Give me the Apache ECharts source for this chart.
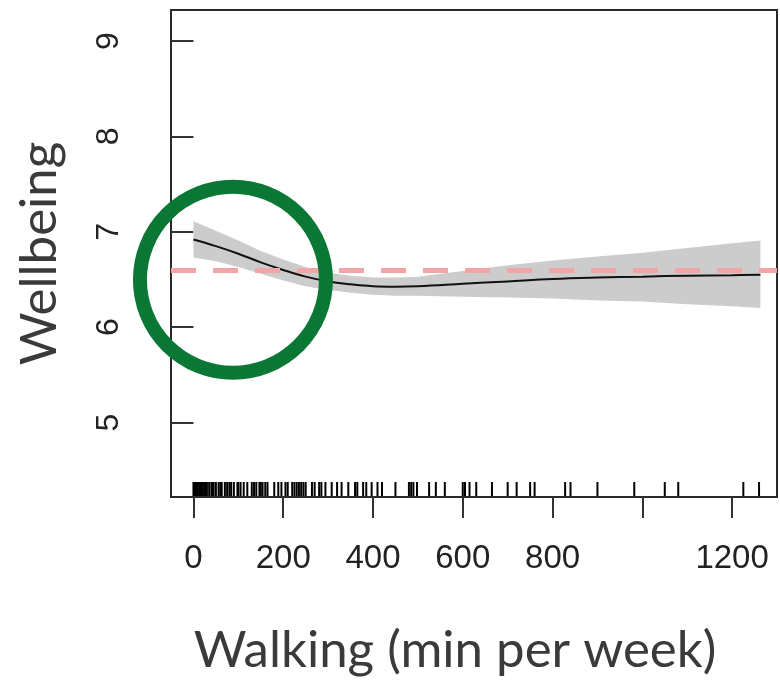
<!DOCTYPE html>
<html><head><meta charset="utf-8">
<script src="https://cdn.jsdelivr.net/npm/echarts@6/dist/echarts.min.js"></script>
<style>html,body{margin:0;padding:0;background:#fff}#c{width:780px;height:681px}</style>
</head><body><div id="c"></div>
<script>
// ---- data ----
const xTickValues = [0, 200, 400, 600, 800, 1000, 1200];
const xLabelValues = [0, 200, 400, 600, 800, 1200];
const yTickValues = [5, 6, 7, 8, 9];

const fitX   = [0, 50, 100, 150, 200, 250, 300, 350, 400, 450, 500, 600, 700, 800, 900, 1000, 1100, 1200, 1263];
const fitY   = [6.92, 6.85, 6.77, 6.68, 6.60, 6.53, 6.48, 6.45, 6.43, 6.425, 6.43, 6.455, 6.48, 6.505, 6.52, 6.53, 6.54, 6.545, 6.55];
const lowerY = [6.73, 6.69, 6.63, 6.56, 6.49, 6.43, 6.39, 6.36, 6.34, 6.33, 6.33, 6.32, 6.31, 6.30, 6.28, 6.27, 6.24, 6.22, 6.20];
const upperY = [7.11, 7.01, 6.91, 6.80, 6.71, 6.63, 6.57, 6.54, 6.52, 6.52, 6.53, 6.59, 6.65, 6.70, 6.74, 6.78, 6.83, 6.88, 6.91];

const rugX = [0, 3, 5, 7, 10, 14, 15, 18, 20, 21, 25, 28, 30, 35, 40, 42, 45, 50, 56, 60, 63, 70, 75, 80, 84, 90, 98, 100, 105, 112, 120,
  130, 135, 140, 147, 150, 154, 160, 165, 180, 189, 196, 205, 210, 220, 225, 230, 235, 240, 245, 250, 264, 270, 280, 285, 294,
  308, 320, 330, 345, 360, 365, 378, 385, 397, 410, 420, 450, 480, 485, 490, 498, 525, 540, 560, 600, 605, 615, 630, 665, 700,
  720, 750, 760, 828, 840, 900, 982, 1050, 1080, 1225, 1260];

const referenceLevel = 6.6;
const highlightPoint = [88, 6.497];

const X_MIN = -50, X_MAX = 1300, Y_MIN = 4.22, Y_MAX = 9.325;

// ---- chart ----
const chart = echarts.init(document.getElementById('c'), null, {renderer: 'canvas'});
const tickFont = 'Liberation Sans, Arial, Helvetica, sans-serif';
const titleFont = 'Lato, Calibri, sans-serif';

chart.setOption({
  backgroundColor: '#ffffff',
  animation: false,
  grid: {left: 171, top: 10, width: 606, height: 487, show: true, borderColor: '#2a2a2a', borderWidth: 2, backgroundColor: 'transparent'},
  xAxis: {
    type: 'value', min: X_MIN, max: X_MAX,
    axisLine: {show: false}, splitLine: {show: false},
    axisTick: {show: true, customValues: xTickValues, length: 21, lineStyle: {color: '#333', width: 2}},
    axisLabel: {customValues: xLabelValues, fontSize: 33, fontFamily: tickFont, color: '#222', margin: 45,
      formatter: v => String(v)},
    name: 'Walking (min per week)', nameLocation: 'middle', nameGap: 128,
    nameTextStyle: {fontSize: 51, fontFamily: titleFont, color: '#3a3a3a', padding: [0, 38, 0, 0]}
  },
  yAxis: {
    type: 'value', min: Y_MIN, max: Y_MAX,
    axisLine: {show: false}, splitLine: {show: false},
    axisTick: {show: true, customValues: yTickValues, length: 22, lineStyle: {color: '#333', width: 2}},
    axisLabel: {customValues: yTickValues, rotate: 90, fontSize: 32, fontFamily: tickFont, color: '#222', margin: 46,
      formatter: v => String(v)},
    name: 'Wellbeing', nameLocation: 'middle', nameRotate: 90, nameGap: 106,
    nameTextStyle: {fontSize: 51, fontFamily: titleFont, color: '#3a3a3a'}
  },
  series: [
    {
      type: 'custom', name: 'band', z: 1, silent: true,
      data: [[fitX[0], fitY[0]]],
      renderItem: function (params, api) {
        const pts = [];
        for (let i = 0; i < fitX.length; i++) pts.push(api.coord([fitX[i], upperY[i]]));
        for (let i = fitX.length - 1; i >= 0; i--) pts.push(api.coord([fitX[i], lowerY[i]]));
        return {type: 'polygon', shape: {points: pts}, style: {fill: '#cccccc'}};
      }
    },
    {
      type: 'line', name: 'ref', z: 2, data: [], silent: true,
      markLine: {
        silent: true, symbol: ['none', 'none'], label: {show: false},
        lineStyle: {color: '#f3a5a5', width: 5, type: [25, 17]},
        data: [{yAxis: referenceLevel}]
      }
    },
    {
      type: 'line', name: 'fit', z: 3, silent: true,
      data: fitX.map((x, i) => [x, fitY[i]]),
      smooth: 0.4, showSymbol: false,
      lineStyle: {color: '#111', width: 2}
    },
    {
      type: 'custom', name: 'rug', z: 3, silent: true,
      data: rugX.map(v => [v, Y_MIN]),
      renderItem: function (params, api) {
        const p = api.coord([api.value(0), Y_MIN]);
        return {type: 'line', shape: {x1: p[0], y1: p[1] - 1, x2: p[0], y2: p[1] - 15}, style: {stroke: '#000', lineWidth: 2}};
      }
    },
    {
      type: 'scatter', name: 'highlight', z: 10, silent: true, clip: false,
      data: [highlightPoint], symbol: 'circle', symbolSize: 186,
      itemStyle: {color: 'rgba(0,0,0,0)', borderColor: '#0a7834', borderWidth: 14, opacity: 1}
    }
  ]
});
</script>
</body></html>
